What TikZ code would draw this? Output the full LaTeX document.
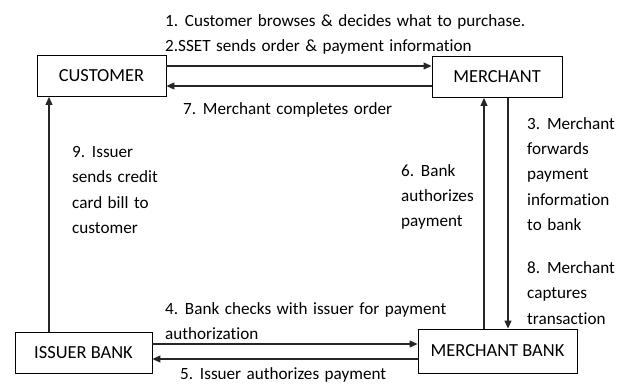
\documentclass[tikz,border=0pt]{standalone}
\usepackage{fontspec}
\setmainfont{Carlito}[Ligatures=NoCommon]
\usetikzlibrary{arrows.meta}
\newcommand\lblfont{\fontsize{17.2}{25.3}\selectfont\spaceskip=5.5bp plus 1bp minus 0.5bp\relax}
\begin{document}
\begin{tikzpicture}[x=1bp,y=-1bp,
  box/.style={draw=black,line width=0.9bp,minimum width=#1,minimum height=41bp,inner sep=0pt,font=\fontsize{18.5}{21}\selectfont},
  arr/.style={draw=black!85,line width=1.2bp,-{Triangle[length=8bp,width=7bp]}},
  lbl/.style={anchor=west,align=left,inner sep=0pt,font=\lblfont},
]
\useasboundingbox (0,0) rectangle (626,385);
\node[box=129bp] (cust) at (101.5,76) {CUSTOMER};
\node[box=130bp] (merch) at (497,77) {MERCHANT};
\node[box=137bp] (iss) at (83.5,352.5) {ISSUER BANK};
\node[box=159bp,minimum height=44bp] (mb) at (497.5,351) {MERCHANT BANK};

\draw[arr] (cust.east |- 0,66) -- (merch.west |- 0,66);
\draw[arr] (merch.west |- 0,86) -- (cust.east |- 0,86);
\draw[arr] (iss.north -| 49,0) -- (cust.south -| 49,0);
\draw[arr] (mb.north -| 484,0) -- (merch.south -| 484,0);
\draw[arr] (merch.south -| 508,0) -- (mb.north -| 508,0);
\draw[arr] (iss.east |- 0,344) -- (mb.west |- 0,344);
\draw[arr] (mb.west |- 0,359) -- (iss.east |- 0,359);

\node[lbl] (l1) at (165,22) {1. Customer browses \& decides what to purchase.};
\node[lbl] (l2) at (165,47) {2.SSET sends order \& payment information};
\node[lbl] (l7) at (183,110) {7. Merchant completes order};
\node[lbl] (l9) at (72,190) {9. Issuer\\sends credit\\card bill to\\customer};
\node[lbl] (l6) at (401,197) {6. Bank\\authorizes\\payment};
\node[lbl] (l3) at (527,174) {3. Merchant\\forwards\\payment\\information\\to bank};
\node[lbl] (l8) at (527,293) {8. Merchant\\captures\\transaction};
\node[lbl] (l4) at (165,321) {4. Bank checks with issuer for payment\\authorization};
\node[lbl] (l5) at (180,375) {5. Issuer authorizes payment};
\end{tikzpicture}
\end{document}
